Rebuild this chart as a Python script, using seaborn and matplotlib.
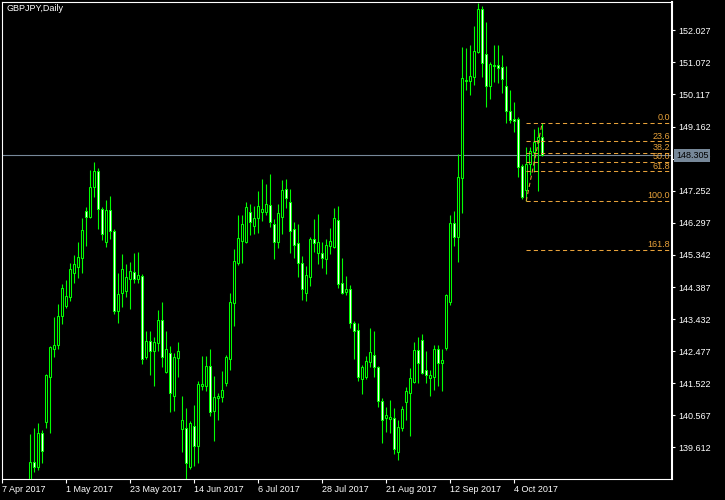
import numpy as np
import pandas as pd
import matplotlib
matplotlib.use('Agg')
import matplotlib.pyplot as plt
import matplotlib.transforms as mtransforms
import seaborn as sns

# GBPJPY daily bars from 18 Apr 2017 to 13 Oct 2017 (7-17 Apr sit below the visible range)
opens = [138.20, 139.17, 139.04, 140.03, 140.38, 141.70, 142.53, 142.65, 143.52, 143.82,
         144.08, 144.81, 144.99, 145.26, 146.64, 146.48, 147.35, 147.83, 146.70, 145.74,
         146.68, 146.05, 143.68, 144.20, 144.28, 144.63, 144.83, 144.62, 144.72, 142.30,
         142.77, 142.49, 142.73, 143.41, 141.87, 142.41, 141.14, 142.28, 140.15, 140.18,
         139.02, 140.25, 139.66, 141.44, 141.44, 142.04, 140.71, 141.08, 141.12, 141.52,
         142.24, 143.90, 145.11, 145.77, 145.74, 146.61, 146.21, 146.45, 146.63, 146.63,
         146.82, 146.25, 145.74, 146.48, 147.30, 146.93, 146.10, 145.69, 145.09, 144.22,
         144.69, 145.81, 145.39, 145.39, 145.21, 145.62, 145.59, 146.38, 144.50, 144.25,
         144.32, 143.33, 143.11, 141.64, 141.70, 142.16, 142.36, 142.01, 140.99, 140.50,
         140.45, 140.48, 139.49, 140.18, 140.97, 141.22, 141.57, 142.51, 142.81, 141.92,
         141.68, 141.72, 142.53, 142.13, 142.56, 143.95, 146.28, 145.88, 147.62, 150.53,
         150.53, 150.65, 151.37, 152.65, 151.31, 150.38, 150.99, 150.99, 150.93, 150.38,
         149.63, 149.38, 149.39, 147.99, 147.27, 148.04, 148.40, 148.71, 148.85]
highs = [140.01, 140.18, 140.33, 140.13, 141.80, 142.63, 143.50, 143.88, 144.48, 144.60,
         145.09, 145.33, 145.73, 146.44, 146.78, 147.87, 148.10, 147.92, 146.78, 146.98,
         147.10, 146.11, 144.81, 145.37, 145.07, 145.13, 145.40, 145.43, 144.77, 143.07,
         143.07, 142.91, 143.70, 143.94, 143.07, 142.63, 142.43, 142.75, 141.14, 140.78,
         140.41, 140.88, 141.59, 142.33, 142.33, 142.54, 141.74, 141.24, 141.89, 142.36,
         144.20, 145.52, 146.53, 146.53, 146.92, 146.86, 146.80, 147.24, 147.59, 147.45,
         147.75, 146.40, 146.86, 147.57, 147.59, 147.30, 146.33, 146.25, 145.31, 145.01,
         145.87, 146.41, 146.56, 145.74, 145.81, 146.14, 146.73, 146.80, 145.24, 144.72,
         144.45, 143.38, 143.31, 142.08, 142.33, 143.17, 143.08, 142.05, 141.08, 140.82,
         141.02, 140.78, 140.43, 140.85, 141.40, 141.97, 142.74, 142.89, 142.99, 142.48,
         141.92, 142.66, 142.66, 142.53, 144.17, 146.53, 146.65, 148.35, 151.52, 151.49,
         151.59, 152.16, 152.85, 152.75, 152.28, 151.09, 151.59, 151.59, 151.29, 150.96,
         150.25, 149.90, 149.46, 148.04, 148.56, 148.56, 149.08, 149.14, 149.27]
lows = [137.90, 138.89, 138.94, 139.14, 140.18, 140.03, 142.31, 142.54, 143.28, 143.75,
        143.98, 144.50, 144.65, 144.80, 145.62, 146.43, 147.07, 146.10, 145.79, 145.59,
        145.81, 143.58, 143.33, 143.80, 144.10, 143.74, 144.50, 144.52, 142.10, 142.24,
        141.77, 141.44, 142.47, 142.00, 141.84, 140.68, 140.70, 141.72, 139.49, 138.67,
        138.97, 139.06, 139.16, 141.32, 141.30, 140.55, 139.81, 140.43, 140.97, 141.44,
        141.92, 143.23, 145.04, 145.11, 145.70, 145.93, 145.96, 146.00, 146.36, 146.53,
        146.16, 145.23, 145.54, 145.96, 146.73, 145.39, 145.24, 144.68, 144.00, 143.98,
        144.43, 145.44, 145.07, 144.94, 144.77, 145.36, 145.55, 144.36, 144.18, 144.15,
        143.16, 142.24, 141.60, 141.20, 141.65, 142.02, 141.70, 140.83, 139.75, 140.08,
        140.03, 139.42, 139.24, 140.11, 140.43, 139.95, 141.52, 141.52, 141.80, 141.54,
        141.14, 141.32, 141.44, 141.30, 142.51, 143.85, 145.61, 145.14, 146.60, 150.25,
        150.10, 150.40, 151.34, 150.65, 149.74, 149.97, 150.50, 150.45, 150.17, 149.26,
        149.28, 149.01, 147.67, 147.01, 146.94, 147.72, 147.82, 147.25, 148.30]
closes = [139.17, 139.04, 140.03, 139.52, 141.77, 142.61, 142.65, 143.52, 144.35, 144.12,
          144.91, 145.06, 145.27, 146.07, 146.48, 147.35, 147.83, 146.70, 145.96, 146.68,
          146.05, 143.68, 144.18, 144.91, 144.68, 144.86, 144.62, 144.74, 142.24, 142.77,
          142.49, 142.74, 143.41, 142.31, 142.53, 141.24, 142.31, 142.48, 140.43, 139.14,
          140.33, 139.66, 141.50, 141.50, 142.04, 140.68, 141.11, 141.14, 141.32, 142.30,
          143.93, 145.15, 145.84, 146.25, 146.76, 146.31, 146.43, 146.79, 146.70, 146.85,
          146.33, 145.74, 146.58, 147.27, 147.03, 146.06, 145.64, 145.09, 144.32, 144.74,
          145.81, 145.71, 145.72, 145.26, 145.64, 145.76, 146.43, 144.48, 144.22, 144.34,
          143.31, 143.09, 141.72, 142.00, 142.18, 142.44, 142.00, 140.99, 140.43, 140.57,
          140.53, 139.56, 140.21, 140.75, 141.28, 141.67, 142.51, 142.13, 141.84, 141.76,
          141.77, 142.53, 142.13, 142.21, 144.15, 146.28, 145.88, 147.65, 150.60, 150.55,
          150.67, 151.41, 152.65, 151.05, 150.38, 151.02, 150.97, 150.91, 150.57, 149.63,
          149.36, 149.34, 147.97, 147.06, 148.04, 148.43, 148.70, 148.85, 148.305]

price_ticks = [139.612, 140.567, 141.522, 142.477, 143.432, 144.387, 145.342,
               146.297, 147.252, 148.207, 149.162, 150.117, 151.072, 152.027]
fib_levels = [0.0, 23.6, 38.2, 50.0, 61.8, 100.0, 161.8]
fib_high = 149.27   # 13 Oct high
fib_low = 146.94    # 9 Oct low
bid = 148.305

W, H = 725, 500
GREEN = '#00ff00'
FIB = '#e8a23a'
BIDCOL = '#778899'

sns.set_style("ticks", {"axes.facecolor": "black", "figure.facecolor": "black",
                        "axes.edgecolor": "white", "xtick.color": "white",
                        "ytick.color": "white", "text.color": "white"})
plt.rcParams['font.family'] = ['Liberation Sans', 'DejaVu Sans']

dates = pd.bdate_range('2017-04-18', periods=len(opens))
all_days = pd.bdate_range('2017-04-07', dates[-1])
df = pd.DataFrame({'x': all_days.get_indexer(dates), 'open': opens, 'high': highs,
                   'low': lows, 'close': closes})

fig = plt.figure(figsize=(W / 100, H / 100), dpi=100)
ax = fig.add_axes([2 / W, 21 / H, 670 / W, 477 / H])
ax.set_facecolor('black')

# wicks then bodies
ax.vlines(df['x'], df['low'], df['high'], color=GREEN, lw=0.8, zorder=2)
up = df[df['close'] >= df['open']]
dn = df[df['close'] < df['open']]
for sub, fill in ((up, 'black'), (dn, 'white')):
    hgt = (sub['close'] - sub['open']).abs().clip(lower=0.01)
    bot = np.minimum(sub['open'], sub['close'])
    ax.bar(sub['x'], hgt, bottom=bot, width=0.5, color=fill, edgecolor=GREEN,
           linewidth=0.75, zorder=3)

# bid line
ax.axhline(bid, color=BIDCOL, lw=0.8, zorder=1)

# fibonacci retracement
x0 = df['x'].iloc[-5]
x_end = 167.4
for lvl in fib_levels:
    p = fib_high - (fib_high - fib_low) * lvl / 100
    ax.hlines(p, x0, x_end, colors=FIB, linestyles=(0, (4, 3)), lw=0.75, zorder=4)
    ax.annotate(f'{lvl:.1f}', xy=(167.0, p), xytext=(0, 2), textcoords='offset points',
                ha='right', va='baseline', fontsize=6.5, color=FIB, zorder=5)
ax.plot([x0, df['x'].iloc[-1]], [fib_low, fib_high], color=FIB, ls=(0, (4, 3)), lw=0.75, zorder=4)

ax.set_xlim(-0.05, 167.45)
ax.set_ylim(138.673, 152.869)

ax.yaxis.tick_right()
ax.set_yticks(price_ticks)
ax.set_yticklabels([f'{p:.3f}' for p in price_ticks])
ax.tick_params(axis='y', right=True, left=False, length=2, width=0.8, pad=2.2,
               labelsize=6.5, colors='white')

tick_pos = list(range(0, len(all_days), 16))
ax.set_xticks(tick_pos)
ax.set_xticklabels([f'{all_days[i].day} {all_days[i]:%b %Y}' for i in tick_pos])
ax.tick_params(axis='x', bottom=True, length=3, width=0.8, pad=1.5, labelsize=6.5,
               colors='white')
for lbl in ax.get_xticklabels():
    lbl.set_ha('left')

for side in ['left', 'top', 'bottom', 'right']:
    ax.spines[side].set_visible(True)
    ax.spines[side].set_color('white')
    ax.spines[side].set_linewidth(0.8)
ax.spines['right'].set_linewidth(1.5)

trans = mtransforms.blended_transform_factory(ax.transAxes, ax.transData)
ax.text(1 + 4 / 670, bid, f'{bid:.3f}', transform=trans, ha='left', va='center',
        fontsize=6.5, color='black', clip_on=False, zorder=10,
        bbox=dict(boxstyle='square,pad=0.2', fc=BIDCOL, ec='none'))

fig.text(6.5 / W, 1 - 4 / H, 'GBPJPY,Daily', color='white', fontsize=6.5,
         ha='left', va='top')

fig.savefig('out.png', dpi=100, facecolor='black')
